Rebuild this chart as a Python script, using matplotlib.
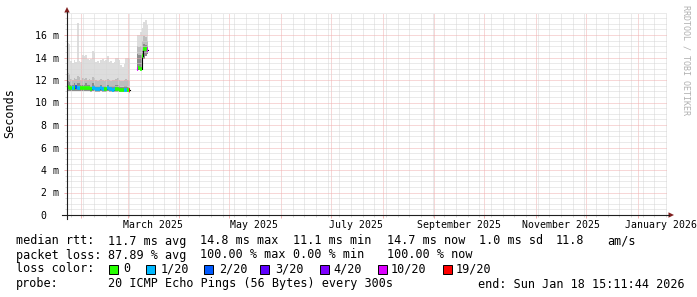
import matplotlib
matplotlib.use("Agg")
import matplotlib.pyplot as plt
import matplotlib.dates as mdates
from matplotlib.lines import Line2D
from matplotlib.patches import Polygon, Rectangle
import numpy as np
import pandas as pd

# graph window: last 360 days
t_start = "2025-01-23 15:11:44"
t_end = "2026-01-18 15:11:44"

# first block of samples (one per day), values in ms
seg1_first = "2025-01-23 15:11"
seg1_top = [15.3, 15.2, 13.7, 13.5, 13.8, 13.6, 17.1, 13.7, 13.6, 14.2, 14.1, 14.2, 13.9,
            13.8, 13.9, 14.6, 14.4, 13.6, 13.7, 13.5, 13.8, 13.9, 13.7, 13.8, 14.1, 13.6,
            13.7, 13.5, 13.6, 14.0, 14.0, 13.8, 13.3, 13.2, 13.4, 14.0, 14.0, 13.9]
seg1_p18 = [12.6, 12.5, 12.1, 12.0, 12.2, 12.1, 12.4, 12.3, 12.0, 12.2, 12.1, 12.2, 12.0,
            12.1, 12.0, 12.3, 12.2, 12.0, 11.9, 12.0, 12.1, 12.0, 11.9, 12.0, 12.1, 12.0,
            11.9, 12.0, 12.0, 12.1, 12.2, 12.0, 11.9, 11.9, 12.0, 12.1, 12.0, 11.9]
seg1_p15 = [11.9, 11.8, 11.6, 11.6, 11.7, 11.6, 11.7, 11.7, 11.6, 11.6, 11.6, 11.7, 11.6,
            11.6, 11.5, 11.7, 11.6, 11.5, 11.5, 11.5, 11.6, 11.5, 11.5, 11.5, 11.6, 11.5,
            11.5, 11.5, 11.5, 11.6, 11.6, 11.5, 11.4, 11.4, 11.5, 11.5, 11.4, 11.3]
seg1_min = [11.05, 11.05, 11.0, 11.0, 11.0, 11.05, 11.0, 11.0, 11.0, 11.0, 11.0, 11.0, 11.0,
            11.0, 10.95, 11.0, 11.0, 10.95, 10.95, 10.95, 11.0, 10.95, 10.95, 10.95, 11.0, 10.95,
            10.95, 10.9, 10.95, 10.95, 10.95, 10.9, 10.9, 10.9, 10.9, 10.9, 10.9, 10.85]
seg1_median = [11.35, 11.3, 11.3, 11.25, 11.3, 11.35, 11.3, 11.3, 11.25, 11.25, 11.25, 11.3, 11.25,
               11.25, 11.2, 11.25, 11.25, 11.2, 11.2, 11.2, 11.25, 11.2, 11.2, 11.2, 11.25, 11.2,
               11.2, 11.15, 11.2, 11.2, 11.2, 11.15, 11.15, 11.1, 11.15, 11.15, 11.1, 11.1]
seg1_loss = [0, 0, 0, 1, 0, 2, 1, 1, 0, 0, 0, 0, 0, 0, 0, 1, 1, 1, 1, 1, 1, 1, 0, 0, 1,
             1, 1, 1, 1, 0, 0, 0, 0, 0, 1, 1, 0, 19]

# second block of samples
seg2_first = "2025-03-06 08:00"
seg2_top = [16.0, 16.0, 16.3, 16.6, 17.2, 17.3, 16.9]
seg2_p18 = [15.0, 14.9, 15.0, 15.5, 15.9, 15.8, 15.5]
seg2_p15 = [14.3, 14.2, 14.2, 14.6, 15.2, 15.1, 15.0]
seg2_min = [12.9, 12.9, 12.9, 13.3, 13.9, 14.1, 14.3]
seg2_median = [13.0, 13.05, 13.0, 14.1, 14.8, 14.75, 14.65]
seg2_loss = [10, 0, 0, 0, 0, 0, 10]

loss_bins = [0, 1, 2, 3, 4, 10, 19]
loss_colors = ["#26ff00", "#00b8ff", "#0059ff", "#5e00ff", "#7e00ff", "#dd00ff", "#ff0000"]
loss_labels = ["0", "1/20", "2/20", "3/20", "4/20", "10/20", "19/20"]

y_major = [0, 2, 4, 6, 8, 10, 12, 14, 16]
y_labels = ["0  ", "2 m", "4 m", "6 m", "8 m", "10 m", "12 m", "14 m", "16 m"]
x_label_dates = ["2025-03-16", "2025-05-16", "2025-07-16", "2025-09-16", "2025-11-16", "2026-01-15"]
x_label_text = ["March 2025", "May 2025", "July 2025", "September 2025", "November 2025", "January 2026"]

rtt_items = ["median rtt:", "11.7 ms avg", "14.8 ms max", "11.1 ms min", "14.7 ms now",
             "1.0 ms sd", "11.8", "am/s"]
loss_items = ["packet loss:", "87.89 % avg", "100.00 % max", "0.00 % min", "100.00 % now"]
probe_text = "20 ICMP Echo Pings (56 Bytes) every 300s"
end_text = "end: Sun Jan 18 15:11:44 2026"

W, H = 697, 297
MONO = "DejaVu Sans Mono"
PINK = "#f0b0b0"
GRAY = "#d6d6d6"


def fx(x):
    return x / W


def fy(y):
    return 1 - y / H


def steps(first, values):
    t = pd.date_range(first, periods=len(values) + 1, freq="D").to_numpy()
    return t, np.append(values, values[-1])


fig = plt.figure(figsize=(W / 100, H / 100), dpi=100)
fig.patch.set_facecolor("white")
ax = fig.add_axes([fx(67), fy(215), 600 / W, 202.5 / H])

for first, top, p18, p15, low, med, loss in [
    (seg1_first, seg1_top, seg1_p18, seg1_p15, seg1_min, seg1_median, seg1_loss),
    (seg2_first, seg2_top, seg2_p18, seg2_p15, seg2_min, seg2_median, seg2_loss),
]:
    t, lo = steps(first, low)
    for band, col in [(top, "#dddddd"), (p18, "#bdbdbd"), (p15, "#8c8c8c")]:
        _, hi = steps(first, band)
        ax.fill_between(t, lo, hi, step="post", color=col, lw=0, zorder=1)
    _, m = steps(first, med)
    ax.step(t, m, where="post", color="#000000", lw=0.8, zorder=3)
    cols = [loss_colors[loss_bins.index(v)] for v in loss]
    ax.hlines(med, t[:-1], t[1:], colors=cols, lw=2.6, zorder=4)

ax.set_xlim(pd.Timestamp(t_start), pd.Timestamp(t_end))
ax.set_ylim(0, 18)
for s in ax.spines.values():
    s.set_visible(False)

ax.xaxis.set_major_locator(mdates.MonthLocator())
ax.xaxis.set_minor_locator(mdates.WeekdayLocator(byweekday=mdates.SU))
ax.set_yticks(y_major)
ax.set_yticklabels(y_labels, fontfamily=MONO, fontsize=7.1)
ax.set_yticks(np.arange(0, 18.01, 0.5), minor=True)

ax.set_axisbelow(False)
ax.grid(which="major", color=PINK, linestyle=(0, (1, 1)), lw=0.72, zorder=2)
ax.grid(which="minor", color=GRAY, linestyle=(0, (1, 1)), lw=0.72, zorder=2)
ax.tick_params(axis="x", which="major", length=2.2, width=0.72, color=PINK, labelbottom=False)
ax.tick_params(axis="x", which="minor", length=1.5, width=0.72, color=GRAY)
ax.tick_params(axis="y", which="major", length=2.2, width=0.72, color=PINK, pad=3.6)
ax.tick_params(axis="y", which="minor", length=1.5, width=0.72, color=GRAY)

for d, s in zip(x_label_dates, x_label_text):
    ax.text(pd.Timestamp(d), -10.5 / 202.5, s, transform=ax.get_xaxis_transform(),
            ha="center", va="center", fontfamily=MONO, fontsize=7.1)

# axis lines and arrows
fig.add_artist(Line2D([fx(67), fx(67)], [fy(219), fy(12)], transform=fig.transFigure,
                      color="#1f1f1f", lw=0.8))
fig.add_artist(Line2D([fx(62), fx(669)], [fy(215), fy(215)], transform=fig.transFigure,
                      color="#1f1f1f", lw=0.8))
fig.add_artist(Polygon([(fx(64.3), fy(12.5)), (fx(69.7), fy(12.5)), (fx(67), fy(7))],
                       closed=True, transform=fig.transFigure, color="#801f1f", lw=0))
fig.add_artist(Polygon([(fx(668.5), fy(212.3)), (fx(668.5), fy(217.7)), (fx(674), fy(215))],
                       closed=True, transform=fig.transFigure, color="#801f1f", lw=0))

fig.text(fx(10), fy(113), "Seconds", rotation=90, ha="center", va="center",
         fontfamily=MONO, fontsize=8.5)
fig.text(fx(686), fy(60), "RRDTOOL / TOBI OETIKER", rotation=-90, ha="center", va="center",
         fontfamily=MONO, fontsize=6, color="#b0b0b0")

# legend block
fs = 8.5
rtt_x = [16, 108, 200, 293, 387, 479, 556, 607]
for x, s in zip(rtt_x, rtt_items):
    fig.text(fx(x), fy(241), s, ha="left", va="center", fontfamily=MONO, fontsize=fs)
loss_x = [16, 108, 200, 293, 387]
for x, s in zip(loss_x, loss_items):
    fig.text(fx(x), fy(255), s, ha="left", va="center", fontfamily=MONO, fontsize=fs)
fig.text(fx(16), fy(269), "loss color:", ha="left", va="center", fontfamily=MONO, fontsize=fs)
box_x = [109, 146, 204, 260, 320, 378, 443]
lab_x = [123, 161, 219, 275, 333, 391, 456]
for bx, lx, c, s in zip(box_x, lab_x, loss_colors, loss_labels):
    fig.add_artist(Rectangle((fx(bx), fy(273.5)), 8.5 / W, 8.5 / H, transform=fig.transFigure,
                             facecolor=c, edgecolor="black", lw=0.7))
    fig.text(fx(lx), fy(269), s, ha="left", va="center", fontfamily=MONO, fontsize=fs)
fig.text(fx(16), fy(284), "probe:", ha="left", va="center", fontfamily=MONO, fontsize=fs)
fig.text(fx(108), fy(284), probe_text, ha="left", va="center", fontfamily=MONO, fontsize=fs)
fig.text(fx(478), fy(284), end_text, ha="left", va="center", fontfamily=MONO, fontsize=fs)

fig.savefig("out.png", dpi=100, facecolor="white")
